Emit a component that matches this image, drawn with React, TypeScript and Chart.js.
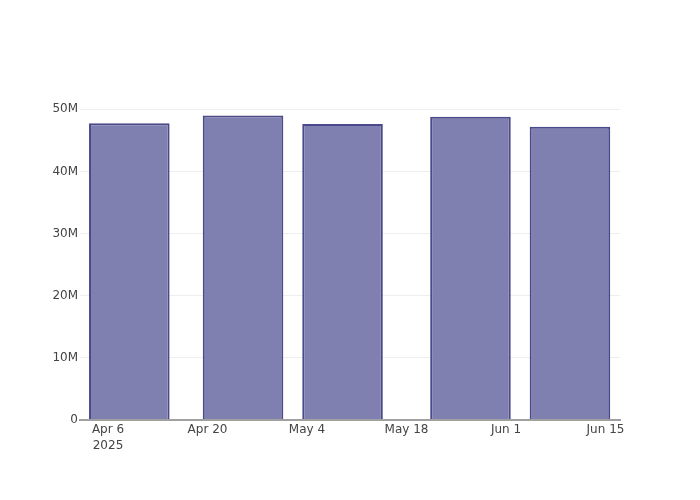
import React, { useEffect, useRef } from "react";
import { Chart, registerables } from "chart.js";

Chart.register(...registerables);

// Bar dates and values
const barDates = ["2025-04-09", "2025-04-25", "2025-05-09", "2025-05-27", "2025-06-10"];
const barValues = [47750000, 49000000, 47650000, 48800000, 47200000];

// X tick dates and labels
const tickDates = ["2025-04-06", "2025-04-20", "2025-05-04", "2025-05-18", "2025-06-01", "2025-06-15"];
const tickLabels = ["Apr 6", "Apr 20", "May 4", "May 18", "Jun 1", "Jun 15"];
const tickYearLabel = "2025";

// Y ticks
const yTickValues = [0, 10000000, 20000000, 30000000, 40000000, 50000000];
const yTickLabels = ["0", "10M", "20M", "30M", "40M", "50M"];

const originDate = "2025-04-06";
const xMinDays = -3.94;
const xMaxDays = 72.04;
const yMax = 51500000;

const DAY = 86400000;
const toDays = (d: string) => (Date.parse(d + "T00:00:00Z") - Date.parse(originDate + "T00:00:00Z")) / DAY;

export default function App() {
  const ref = useRef<HTMLCanvasElement>(null);

  useEffect(() => {
    if (!ref.current) return;
    const tickPos = tickDates.map(toDays);
    const chart = new Chart(ref.current, {
      type: "bar",
      data: {
        datasets: [
          {
            data: barDates.map((d, i) => ({ x: toDays(d), y: barValues[i] })),
            backgroundColor: "#7f7fb0",
            borderColor: "#4a4a8a",
            borderWidth: 2,
            categoryPercentage: 0.81,
            barPercentage: 1,
          },
        ],
      },
      options: {
        animation: false,
        responsive: false,
        maintainAspectRatio: false,
        layout: { padding: { top: 100, right: 80, left: 0, bottom: 0 } },
        plugins: {
          legend: { display: false },
          tooltip: { enabled: false },
        },
        scales: {
          x: {
            type: "linear",
            min: xMinDays,
            max: xMaxDays,
            offset: false,
            grid: { display: false, drawTicks: false },
            border: { display: true, color: "#a0a0a0", width: 2, z: 1 },
            afterBuildTicks: (scale: any) => {
              scale.ticks = tickPos.map((v) => ({ value: v }));
            },
            afterFit: (scale: any) => {
              scale.height = 80;
            },
            ticks: {
              padding: 2,
              maxRotation: 0,
              autoSkip: false,
              color: "#444",
              font: { family: "DejaVu Sans", size: 12, lineHeight: 1.33 },
              callback: (_v: any, i: number) => (i === 0 ? [tickLabels[i], tickYearLabel] : tickLabels[i]),
            },
          },
          y: {
            type: "linear",
            min: 0,
            max: yMax,
            grid: { color: "#eeeeee", lineWidth: 1, drawTicks: false },
            border: { display: false },
            afterBuildTicks: (scale: any) => {
              scale.ticks = yTickValues.map((v) => ({ value: v }));
            },
            afterFit: (scale: any) => {
              scale.width = 80;
            },
            ticks: {
              padding: 2,
              color: "#444",
              font: { family: "DejaVu Sans", size: 12 },
              callback: (_v: any, i: number) => yTickLabels[i],
            },
          },
        },
      },
    });
    return () => chart.destroy();
  }, []);

  return (
    <div style={{ position: "absolute", left: 0, top: 0, width: 700, height: 500, background: "#fff" }}>
      <canvas ref={ref} width={700} height={500} style={{ width: 700, height: 500 }} />
    </div>
  );
}
